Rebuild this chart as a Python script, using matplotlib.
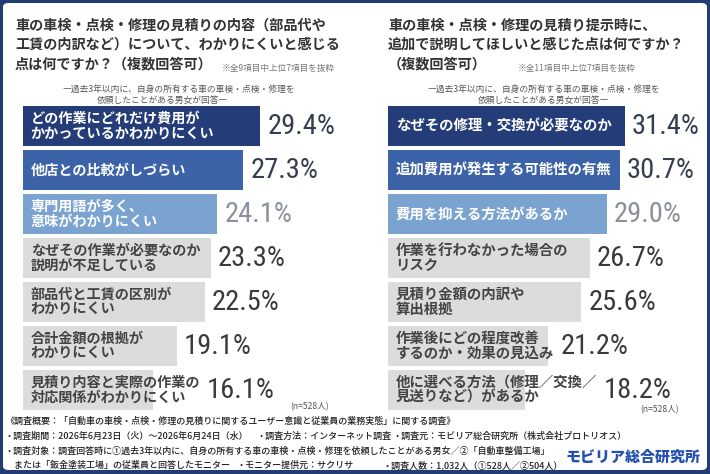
import matplotlib
matplotlib.use("Agg")
import matplotlib.pyplot as plt
from matplotlib import font_manager
from matplotlib.patches import FancyBboxPatch

# ---------------- data ----------------
left_title = ["車の車検・点検・修理の見積りの内容（部品代や",
              "工賃の内訳など）について、わかりにくいと感じる",
              "点は何ですか？（複数回答可）"]
left_note = "※全9項目中上位7項目を抜粋"
left_labels = ["どの作業にどれだけ費用が\nかかっているかわかりにくい",
               "他店との比較がしづらい",
               "専門用語が多く、\n意味がわかりにくい",
               "なぜその作業が必要なのか\n説明が不足している",
               "部品代と工賃の区別が\nわかりにくい",
               "合計金額の根拠が\nわかりにくい",
               "見積り内容と実際の作業の\n対応関係がわかりにくい"]
left_values = [29.4, 27.3, 24.1, 23.3, 22.5, 19.1, 16.1]

right_title = ["車の車検・点検・修理の見積り提示時に、",
               "追加で説明してほしいと感じた点は何ですか？",
               "（複数回答可）"]
right_note = "※全11項目中上位7項目を抜粋"
right_labels = ["なぜその修理・交換が必要なのか",
                "追加費用が発生する可能性の有無",
                "費用を抑える方法があるか",
                "作業を行わなかった場合の\nリスク",
                "見積り金額の内訳や\n算出根拠",
                "作業後にどの程度改善\nするのか・効果の見込み",
                "他に選べる方法（修理／交換／\n見送りなど）があるか"]
right_values = [31.4, 30.7, 29.0, 26.7, 25.6, 21.2, 18.2]

subtitle = ["―過去3年以内に、自身の所有する車の車検・点検・修理を",
            "依頼したことがある男女が回答―"]
n_note = "(n=528人)"
footer = ["《調査概要：「自動車の車検・点検・修理の見積りに関するユーザー意識と従業員の業務実態」に関する調査》",
          "・調査期間：2026年6月23日（火）～2026年6月24日（水）",
          "・調査方法：インターネット調査",
          "・調査元：モビリア総合研究所（株式会社プロトリオス）",
          "・調査対象：調査回答時に①過去3年以内に、自身の所有する車の車検・点検・修理を依頼したことがある男女／②「自動車整備工場」",
          "　または「鈑金塗装工場」の従業員と回答したモニター",
          "・モニター提供元：サクリサ",
          "・調査人数：1,032人（①528人／②504人）"]
logo = "モビリア総合研究所"

# ---------------- styles ----------------
CJK = ["Noto Sans CJK JP", "DejaVu Sans"]

def pick(cands):
    for c, size in cands:
        try:
            font_manager.findfont(font_manager.FontProperties(family=c), fallback_to_default=False)
            return c, size
        except Exception:
            pass
    return "DejaVu Sans", 17

NUMF, NUMSIZE = pick([("Roboto Condensed", 20.5), ("Liberation Sans Narrow", 20.5),
                      ("DejaVu Sans Condensed", 19), ("Roboto", 18.5)])
plt.rcParams["font.family"] = CJK

bar_colors = ["#243c78", "#3c63a8", "#7aa3d0"] + ["#dcdcdc"] * 4
text_colors = ["white"] * 3 + ["#444444"] * 4
num_colors = ["#353e50", "#353e50", "#8a919b"] + ["#3a3a3a"] * 4

W, H = 710, 474
fig = plt.figure(figsize=(W / 100, H / 100), dpi=100)
fig.patch.set_facecolor("#213d73")

def fx(px):
    return px / W

def fy(py):
    return 1 - py / H

card = FancyBboxPatch((fx(3), fy(470)), fx(704), 467 / H,
                      boxstyle="round,pad=0,rounding_size=0.008",
                      transform=fig.transFigure, facecolor="white",
                      edgecolor="none", zorder=-10)
fig.patches.append(card)

panels = []

def panel(x0, scale, title, title_x, note, note_x, sub_x, labels, values, n_x, n_y, lab_fs):
    for t, yy in zip(title, [26, 45, 64]):
        fig.text(fx(title_x), fy(yy), t, fontsize=10.2, fontweight="bold",
                 color="#333333", va="center", ha="left")
    fig.text(fx(note_x), fy(68), note, fontsize=6.2, color="#777777",
             va="center", ha="left")
    fig.text(fx(sub_x[0]), fy(89), subtitle[0], fontsize=6.3, color="#555555",
             va="center", ha="left")
    fig.text(fx(sub_x[1]), fy(100), subtitle[1], fontsize=6.3, color="#555555",
             va="center", ha="left")
    top, bot = 104.5, 412.0
    width_px = 320
    ax = fig.add_axes([fx(x0), fy(bot), fx(width_px), (bot - top) / H])
    ax.set_xlim(0, width_px / scale)
    ax.set_ylim(len(values) - 0.5, -0.5)
    ax.axis("off")
    ys = list(range(len(values)))
    ax.barh(ys, values, height=0.91, color=bar_colors, edgecolor="none")
    anns = []
    for i, lab in enumerate(labels):
        a = ax.annotate(lab, (0, i), xytext=(5.5, 0), textcoords="offset points",
                        va="center", ha="left", fontsize=lab_fs, fontweight="bold",
                        color=text_colors[i], linespacing=1.15)
        anns.append(a)
    fig.text(fx(n_x), fy(n_y), n_note, fontsize=6.2, color="#555555",
             va="center", ha="left")
    panels.append((ax, anns, values))

panel(23, 8.07, left_title, 15, left_note, 222, (62, 97),
      left_labels, left_values, 290, 407, 10.2)
panel(388, 7.55, right_title, 388, right_note, 518, (427, 478),
      right_labels, right_values, 640, 410, 10.4)

# percent labels placed after the bar (or after the label text if it overhangs)
fig.canvas.draw()
renderer = fig.canvas.get_renderer()
for ax, anns, values in panels:
    inv = ax.transData.inverted()
    for i, (a, v) in enumerate(zip(anns, values)):
        bar_end = ax.transData.transform((v, i))[0]
        txt_end = a.get_window_extent(renderer).x1
        xpx = max(bar_end, txt_end) + 7
        xd = inv.transform((xpx, 0))[0]
        ax.text(xd, i, f"{v:.1f}%", va="center", ha="left", fontsize=NUMSIZE,
                family=NUMF, color=num_colors[i])

# footer
fs = 6.5
fc = "#222222"
fw = "medium"
fig.text(fx(5), fy(421), footer[0], fontsize=fs, color=fc, va="center", fontweight=fw)
fig.text(fx(5), fy(436), footer[1], fontsize=fs, color=fc, va="center", fontweight=fw)
fig.text(fx(257), fy(436), footer[2], fontsize=fs, color=fc, va="center", fontweight=fw)
fig.text(fx(393), fy(436), footer[3], fontsize=fs, color=fc, va="center", fontweight=fw)
fig.text(fx(5), fy(451), footer[4], fontsize=fs, color=fc, va="center", fontweight=fw)
fig.text(fx(5), fy(465), footer[5], fontsize=fs, color=fc, va="center", fontweight=fw)
fig.text(fx(236), fy(465), footer[6], fontsize=fs, color=fc, va="center", fontweight=fw)
fig.text(fx(383), fy(465), footer[7], fontsize=fs, color=fc, va="center", fontweight=fw)
fig.text(fx(565), fy(457), logo, fontsize=10.8, fontweight="black",
         color="#2450b0", va="center", ha="left")

fig.savefig("out.png", dpi=100, facecolor=fig.get_facecolor())
